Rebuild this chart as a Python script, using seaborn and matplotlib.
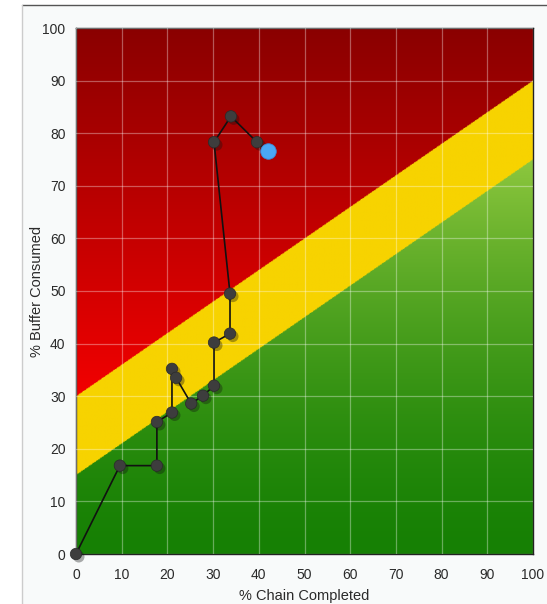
import numpy as np
import pandas as pd
import matplotlib
matplotlib.use("Agg")
import matplotlib.pyplot as plt
import matplotlib.patheffects as pe
from matplotlib.patches import Rectangle
import seaborn as sns

# ---- data ----
chain_completed = [0, 9.6, 17.7, 17.7, 21.0, 21.0, 21.9, 25.2, 27.8, 30.2, 30.2, 33.7, 33.7, 30.2, 33.9, 39.6]
buffer_consumed = [0, 16.8, 16.8, 25.1, 26.9, 35.2, 33.5, 28.6, 30.1, 32.0, 40.2, 41.9, 49.5, 78.3, 83.2, 78.3]
current_x = [42.0]
current_y = [76.6]
red_line = [30, 90]      # boundary at x=0 and x=100
yellow_line = [15, 75]
ticks = [0, 10, 20, 30, 40, 50, 60, 70, 80, 90, 100]

df = pd.DataFrame({"x": chain_completed + current_x, "y": buffer_consumed + current_y})
pts = pd.DataFrame({"x": chain_completed, "y": buffer_consumed})
cur = pd.DataFrame({"x": current_x, "y": current_y})

sns.set_theme(style="white")
plt.rcParams['font.family'] = ['Liberation Sans', 'DejaVu Sans']

W, H = 547, 604
fig = plt.figure(figsize=(W / 100, H / 100), dpi=100)
fig.patch.set_facecolor("#f8fafa")
# white margins outside the panel frame
fig.add_artist(Rectangle((0, 0), 22 / W, 1, transform=fig.transFigure, facecolor="white", edgecolor="none", zorder=-5))
fig.add_artist(Rectangle((0, 1 - 5 / H), 1, 5 / H, transform=fig.transFigure, facecolor="white", edgecolor="none", zorder=-5))
fig.add_artist(plt.Line2D([22 / W, 1], [1 - 5 / H, 1 - 5 / H], color="#555555", lw=1.0, transform=fig.transFigure, zorder=-4))
fig.add_artist(plt.Line2D([22 / W, 22 / W], [0, 1 - 5 / H], color="#cccccc", lw=1.0, transform=fig.transFigure, zorder=-4))

ax = fig.add_axes([76 / W, 50 / H, (533 - 76) / W, (554 - 28) / H])
ax.set_zorder(5)

# background gradient zones
n = 600
gx, gy = np.meshgrid(np.linspace(0, 100, n), np.linspace(0, 100, n))
img = np.zeros((n, n, 3))
red_b = red_line[0] + (red_line[1] - red_line[0]) * gx / 100
yel_b = yellow_line[0] + (yellow_line[1] - yellow_line[0]) * gx / 100
t_red = np.clip((gy - 30) / 70, 0, 1)
red = np.stack([(242 - (242 - 138) * t_red) / 255, np.zeros_like(gy), np.zeros_like(gy)], -1)
t_g = (np.clip(gy / 75, 0, 1) ** 1.5)[..., None]
g0 = np.array([22, 128, 4]) / 255
g1 = np.array([141, 199, 62]) / 255
green = g0 + (g1 - g0) * t_g
yellow = np.array([247, 211, 0]) / 255
mask_red = gy >= red_b
mask_green = gy < yel_b
img[:] = yellow
img[mask_red] = red[mask_red]
img[mask_green] = green[mask_green]
ax.imshow(img, extent=[0, 100, 0, 100], origin="lower", aspect="auto", zorder=0, interpolation="bilinear")

ax.set_xlim(0, 100)
ax.set_ylim(0, 100)
ax.set_xticks(ticks)
ax.set_yticks(ticks)
ax.grid(True, color="white", alpha=0.35, lw=0.9, zorder=1)
ax.set_axisbelow(False)

sns.lineplot(data=df, x="x", y="y", sort=False, estimator=None, color="#111111", lw=1.2, ax=ax, zorder=3)
for c in ax.lines[-1:]:
    c.set_clip_on(False)
sns.scatterplot(data=pts, x="x", y="y", s=68, color="#3d3d3d", edgecolor="#2a2a2a", linewidth=0.5, ax=ax,
                zorder=4, clip_on=False,
                path_effects=[pe.SimplePatchShadow(offset=(2, -2), alpha=0.35), pe.Normal()])
sns.scatterplot(data=cur, x="x", y="y", s=125, color="#4aa8f5", edgecolor="#3b8ad8", linewidth=0.6, ax=ax,
                zorder=5, clip_on=False)

for s in ax.spines.values():
    s.set_color("#222222")
    s.set_linewidth(1.0)
    s.set_visible(True)
ax.tick_params(axis="both", length=0, labelsize=10, colors="#2a2a2a")
ax.tick_params(axis="y", pad=7.5)
ax.tick_params(axis="x", pad=10)
ax.set_xlabel("% Chain Completed", fontsize=10.5, color="#2a2a2a", labelpad=5)
ax.set_ylabel("% Buffer Consumed", fontsize=10.5, color="#2a2a2a", labelpad=-1)

fig.savefig("out.png", dpi=100, facecolor=fig.get_facecolor())
